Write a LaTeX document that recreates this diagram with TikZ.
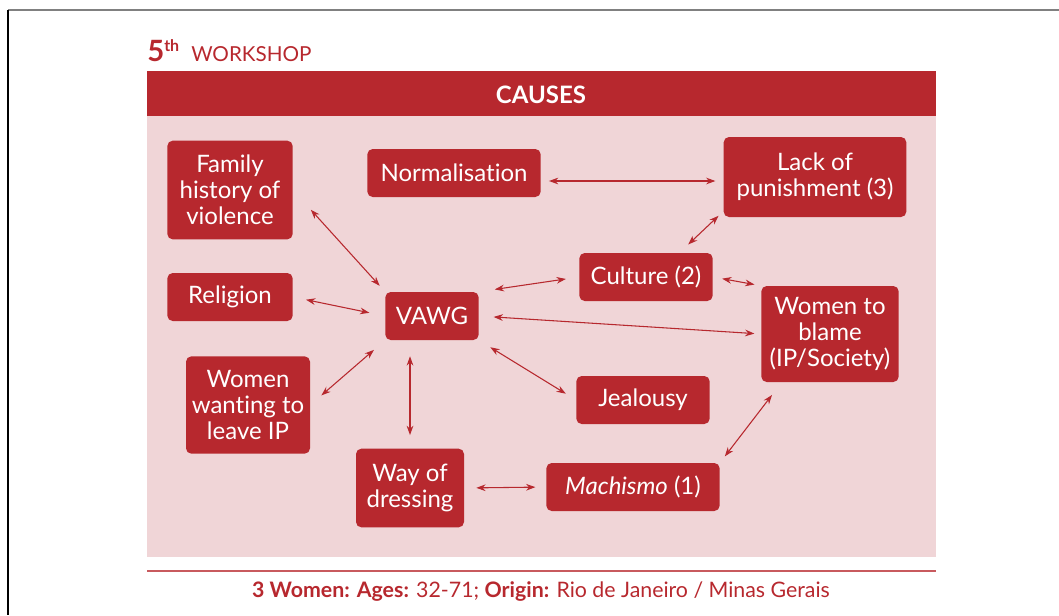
\documentclass[tikz,border=0pt]{standalone}
\usepackage{fontspec}
\setmainfont{Lato}[Ligatures=NoCommon]
\usetikzlibrary{arrows.meta,calc}
\definecolor{wred}{HTML}{B7282E}
\definecolor{wpink}{HTML}{F0D5D7}
\definecolor{wline}{HTML}{C85A5E}

\begin{document}
\begin{tikzpicture}[x=0.75pt, y=-0.75pt,
    cause/.style = {fill=wred, text=white, rounded corners=4pt, align=center, inner sep=2pt,
                    font=\fontsize{18}{19.5}\selectfont},
    link/.style = {wred, line width=0.8pt, {Stealth[length=7pt,width=5pt]}-{Stealth[length=7pt,width=5pt]}, shorten <=6pt, shorten >=6pt}]

    \useasboundingbox (0,0) rectangle (1059,615);

    % frame
    \draw[gray, line width=2pt] (8,10) -- (1059,10);
    \draw[black, line width=1pt] (8,10) -- (8,615);

    % panel
    \fill[wpink] (147,116) rectangle (936,557);
    \fill[wred] (147,71) rectangle (936,116);
    \node[white, font=\fontsize{18}{18}\selectfont\bfseries] (hdr) at (541,95) {CAUSES};
    \node[anchor=base west, inner sep=0pt, wred] (ttl) at (147,61)
        {\fontsize{22}{22}\selectfont\bfseries 5\raisebox{7pt}{\fontsize{12}{12}\selectfont th}\hspace{9pt}\fontsize{15.5}{15.5}\selectfont\mdseries WORKSHOP};

    % causes
    \node[cause, minimum width=94pt, minimum height=74pt] (fam) at (230,190) {Family\\history of\\violence};
    \node[cause, minimum width=130pt, minimum height=36pt] (norm) at (454,173) {Normalisation};
    \node[cause, minimum width=137pt, minimum height=60pt] (lack) at (815,177) {Lack of\\punishment (3)};
    \node[cause, minimum width=94pt, minimum height=36pt] (rel) at (230,297) {Religion};
    \node[cause, minimum width=70pt, minimum height=36pt] (vawg) at (432,316) {VAWG};
    \node[cause, minimum width=100pt, minimum height=36pt] (cult) at (646,277) {Culture (2)};
    \node[cause, minimum width=103pt, minimum height=72pt] (blame) at (830,334) {Women to\\blame\\(IP/Society)};
    \node[cause, minimum width=93pt, minimum height=73pt] (want) at (248,405) {Women\\wanting to\\leave IP};
    \node[cause, minimum width=100pt, minimum height=36pt] (jeal) at (643,400) {Jealousy};
    \node[cause, minimum width=81pt, minimum height=59pt] (dress) at (410,488) {Way of\\dressing};
    \node[cause, minimum width=130pt, minimum height=36pt] (mach) at (633,487) {\textit{Machismo} (1)};

    % links
    \draw[link, shorten <=20pt] (fam.east) -- (vawg.north west);
    \draw[link, shorten <=10pt, shorten >=12pt] (rel.east) -- (vawg.west);
    \draw[link, shorten <=11pt, shorten >=11pt] (want.east) -- (vawg.south west);
    \draw[link, shorten <=12pt, shorten >=10pt] (dress.north |- vawg.south) -- (dress.north);
    \draw[link, shorten <=12pt, shorten >=10pt] (vawg.north east) -- (cult.west);
    \draw[link, shorten <=11pt, shorten >=5pt] (vawg.east) -- (blame.west);
    \draw[link, shorten <=10pt, shorten >=9pt] (vawg.south east) -- (jeal.west);
    \draw[link] ([yshift=-6pt]norm.east) -- ([yshift=-6pt]norm.east -| lack.west);
    \draw[link, shorten <=9pt, shorten >=5pt] ($(cult.north)!0.5!(cult.north east)$) -- ($(lack.south west)!0.15!(lack.west)$);
    \draw[link, shorten <=7pt, shorten >=5pt] (cult.east) -- (blame.north west);
    \draw[link, shorten <=9pt, shorten >=8pt] (dress.east) -- (mach.west);
    \draw[link, shorten <=6pt, shorten >=12pt] (mach.north east) -- ($(blame.south west)!0.3!(blame.south)$);

    % footer
    \draw[wline, line width=1pt] (147,571) -- (936,571);
    \node[wred, font=\fontsize{16}{16}\selectfont] (foot) at (541,592)
        {\textbf{3 Women: Ages:} 32-71; \textbf{Origin:} Rio de Janeiro / Minas Gerais};
\end{tikzpicture}
\end{document}
